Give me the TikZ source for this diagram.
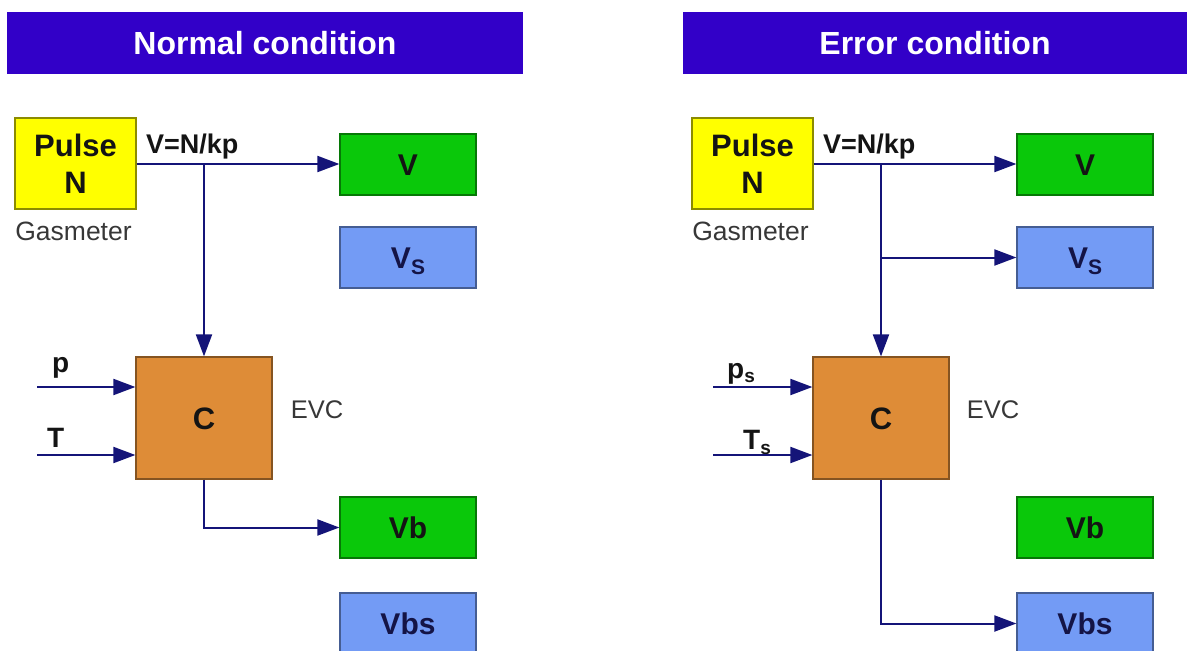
\documentclass[tikz,border=0pt]{standalone}
\usepackage{fontspec}
\setmainfont{Liberation Sans}
\usetikzlibrary{arrows.meta}
\definecolor{hdr}{RGB}{50,0,200}
\definecolor{ylw}{RGB}{255,255,0}
\definecolor{grn}{RGB}{10,200,10}
\definecolor{blu}{RGB}{115,155,245}
\definecolor{org}{RGB}{222,140,55}
\definecolor{navy}{RGB}{20,20,120}
\definecolor{txt}{RGB}{20,20,20}
\definecolor{btxt}{RGB}{20,20,70}
\definecolor{gtxt}{RGB}{55,55,55}
\newcommand{\sub}[2]{#1\raisebox{-#2}{\fontsize{19}{19}\selectfont s}}
\newcommand{\subS}{V\raisebox{-6pt}{\fontsize{21}{21}\selectfont S}}
\begin{document}
\begin{tikzpicture}[x=1pt,y=-1pt,
  hdrbox/.style={fill=hdr, draw=none, minimum height=62pt, inner sep=0pt,
    text=white, font=\fontsize{32}{32}\selectfont\bfseries, text height=22.5pt, text depth=0pt},
  basebox/.style={line width=1.2pt, minimum width=136pt, minimum height=61pt, inner sep=0pt,
    font=\fontsize{30}{30}\selectfont\bfseries, text height=21.5pt, text depth=0pt},
  greenbox/.style={basebox, fill=grn, draw=grn!60!black, text=txt},
  bluebox/.style={basebox, fill=blu, draw=blu!60!black, text=btxt},
  pulsebox/.style={fill=ylw, draw=ylw!55!black, line width=1.2pt, minimum width=121pt, minimum height=91pt,
    inner sep=0pt, align=center, font=\fontsize{31}{37}\selectfont\bfseries, text=txt},
  cbox/.style={fill=org, draw=org!60!black, line width=1.2pt, minimum width=136pt, minimum height=122pt,
    inner sep=0pt, font=\fontsize{31}{31}\selectfont\bfseries, text=txt, text height=22pt, text depth=0pt},
  plain/.style={inner sep=0pt, text=gtxt, font=\fontsize{26.5}{26.5}\selectfont, text height=19pt, text depth=0pt},
  blabel/.style={inner sep=0pt, text=txt, font=\fontsize{28}{28}\selectfont\bfseries, anchor=base west},
  arr/.style={draw=navy, line width=2pt, -{Triangle[length=22pt,width=16pt]}}
]
\useasboundingbox (0,0) rectangle (1187,651);

% ---------------- Normal condition ----------------
\node[hdrbox, minimum width=516pt] (hdrL) at (265,43) {Normal condition};
\node[pulsebox] (pulseL) at (75.5,163.5) {Pulse\\N};
\node[plain] (gasL) at (73.5,231) {Gasmeter};
\node[greenbox] (VL) at (408,164.5) {V};
\node[bluebox] (VsL) at (408,257.5) {\subS};
\node[cbox] (CL) at (204,418) {C};
\node[plain, font=\fontsize{25.5}{25.5}\selectfont] (evcL) at (317,409) {EVC};
\node[greenbox] (VbL) at (408,527.5) {Vb};
\node[bluebox] (VbsL) at (408,623.5) {Vbs};
\node[blabel, font=\fontsize{27}{27}\selectfont\bfseries] (kpL) at (146,153) {V=N/kp};
\node[blabel] (pL) at (52,372) {p};
\node[blabel] (TL) at (47,447) {T};

\coordinate (jL) at (204,164);
\coordinate (pinL) at (37,387);
\coordinate (TinL) at (37,455);
\draw[arr] (pulseL.east |- jL) -- (VL.west |- jL);
\draw[arr] (jL) -- (CL.north);
\draw[arr] (pinL) -- (CL.west |- pinL);
\draw[arr] (TinL) -- (CL.west |- TinL);
\draw[arr] (CL.south) |- (VbL.west);

% ---------------- Error condition ----------------
\node[hdrbox, minimum width=504pt] (hdrR) at (935,43) {Error condition};
\node[pulsebox] (pulseR) at (752.5,163.5) {Pulse\\N};
\node[plain] (gasR) at (750.5,231) {Gasmeter};
\node[greenbox] (VR) at (1085,164.5) {V};
\node[bluebox] (VsR) at (1085,257.5) {\subS};
\node[cbox] (CR) at (881,418) {C};
\node[plain, font=\fontsize{25.5}{25.5}\selectfont] (evcR) at (993,409) {EVC};
\node[greenbox] (VbR) at (1085,527.5) {Vb};
\node[bluebox] (VbsR) at (1085,623.5) {Vbs};
\node[blabel, font=\fontsize{27}{27}\selectfont\bfseries] (kpR) at (823,153) {V=N/kp};
\node[blabel] (pR) at (727,378) {\sub{p}{4pt}};
\node[blabel] (TR) at (743,449) {\sub{T}{5pt}};

\coordinate (jR) at (881,164);
\coordinate (pinR) at (713,387);
\coordinate (TinR) at (713,455);
\draw[arr] (pulseR.east |- jR) -- (VR.west |- jR);
\draw[arr] (jR |- VsR.west) -- (VsR.west);
\draw[arr] (jR) -- (CR.north);
\draw[arr] (pinR) -- (CR.west |- pinR);
\draw[arr] (TinR) -- (CR.west |- TinR);
\draw[arr] (CR.south) |- (VbsR.west);
\end{tikzpicture}
\end{document}
